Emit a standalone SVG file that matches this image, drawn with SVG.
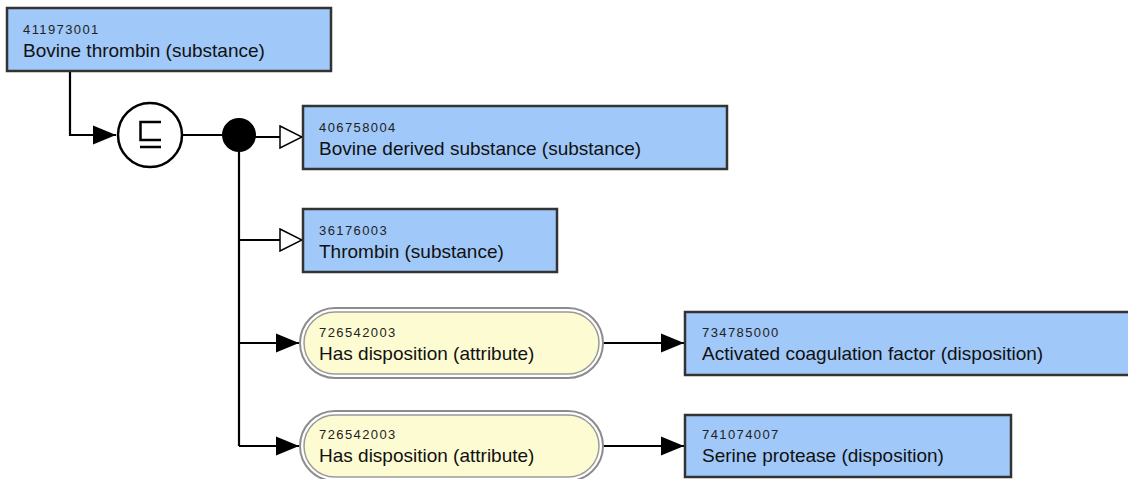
<svg xmlns="http://www.w3.org/2000/svg" width="1128" height="479" viewBox="0 0 1128 479">
<style>
.box{fill:#a0c8f8;stroke:#333;stroke-width:2.5}
.pillo{fill:#fff;stroke:#8c8c8c;stroke-width:2}
.pilli{fill:#fdfbd2;stroke:#9a9a9a;stroke-width:1.5}
.id{font-family:"Liberation Sans",Arial,sans-serif;font-size:13px;letter-spacing:1.4px;fill:#222}
.nm{font-family:"Liberation Sans",Arial,sans-serif;font-size:19px;fill:#111}
.ln{fill:none;stroke:#000;stroke-width:2.2}
</style>
<defs>
<marker id="fa" markerUnits="userSpaceOnUse" markerWidth="23" markerHeight="20" refX="23" refY="10" orient="auto">
<path d="M0,0.5 L23,10 L0,19.5 Z" fill="#000"/>
</marker>
<marker id="ha" markerUnits="userSpaceOnUse" markerWidth="24" markerHeight="24" refX="23" refY="12" orient="auto">
<path d="M1,1 L23,12 L1,23 Z" fill="#fff" stroke="#000" stroke-width="1.5"/>
</marker>
</defs>
<rect width="1128" height="479" fill="#fff"/>
<g id="connectors">
<path class="ln" d="M70,71 V135 H116" marker-end="url(#fa)"/>
<path class="ln" d="M182,135 H224"/>
<path class="ln" d="M254,137 H302" marker-end="url(#ha)"/>
<path class="ln" d="M239,150 V446"/>
<path class="ln" d="M239,240 H302" marker-end="url(#ha)"/>
<path class="ln" d="M239,343 H299" marker-end="url(#fa)"/>
<path class="ln" d="M239,446 H299" marker-end="url(#fa)"/>
<path class="ln" d="M603,343 H684" marker-end="url(#fa)"/>
<path class="ln" d="M603,446 H684" marker-end="url(#fa)"/>
</g>
<g id="n411973001">
<rect class="box" x="7" y="8" width="324" height="63"/>
<text class="id" x="23" y="34">411973001</text>
<text class="nm" x="23" y="57">Bovine thrombin (substance)</text>
</g>
<g id="definitionStatus">
<circle cx="150" cy="135" r="32" fill="#fff" stroke="#000" stroke-width="2.5"/>
<path d="M161,122 H140.5 V140 H161 M140,147 H161" fill="none" stroke="#000" stroke-width="2.5"/>
</g>
<g id="conjunction">
<circle cx="239" cy="135" r="17" fill="#000"/>
</g>
<g id="n406758004">
<rect class="box" x="303" y="106" width="424" height="63"/>
<text class="id" x="319" y="132">406758004</text>
<text class="nm" x="319" y="155">Bovine derived substance (substance)</text>
</g>
<g id="n36176003">
<rect class="box" x="303" y="209" width="254" height="63"/>
<text class="id" x="319" y="235">36176003</text>
<text class="nm" x="319" y="258">Thrombin (substance)</text>
</g>
<g id="attr1">
<rect class="pillo" x="300" y="308" width="303" height="70" rx="35"/>
<rect class="pilli" x="304" y="312" width="295" height="62" rx="31"/>
<text class="id" x="319" y="337">726542003</text>
<text class="nm" x="319" y="360">Has disposition (attribute)</text>
</g>
<g id="n734785000">
<rect class="box" x="685" y="312" width="460" height="63"/>
<text class="id" x="702" y="337">734785000</text>
<text class="nm" x="702" y="360">Activated coagulation factor (disposition)</text>
</g>
<g id="attr2">
<rect class="pillo" x="300" y="411" width="303" height="70" rx="35"/>
<rect class="pilli" x="304" y="415" width="295" height="62" rx="31"/>
<text class="id" x="319" y="439">726542003</text>
<text class="nm" x="319" y="462">Has disposition (attribute)</text>
</g>
<g id="n741074007">
<rect class="box" x="685" y="415" width="326" height="62"/>
<text class="id" x="702" y="439">741074007</text>
<text class="nm" x="702" y="462">Serine protease (disposition)</text>
</g>
</svg>
